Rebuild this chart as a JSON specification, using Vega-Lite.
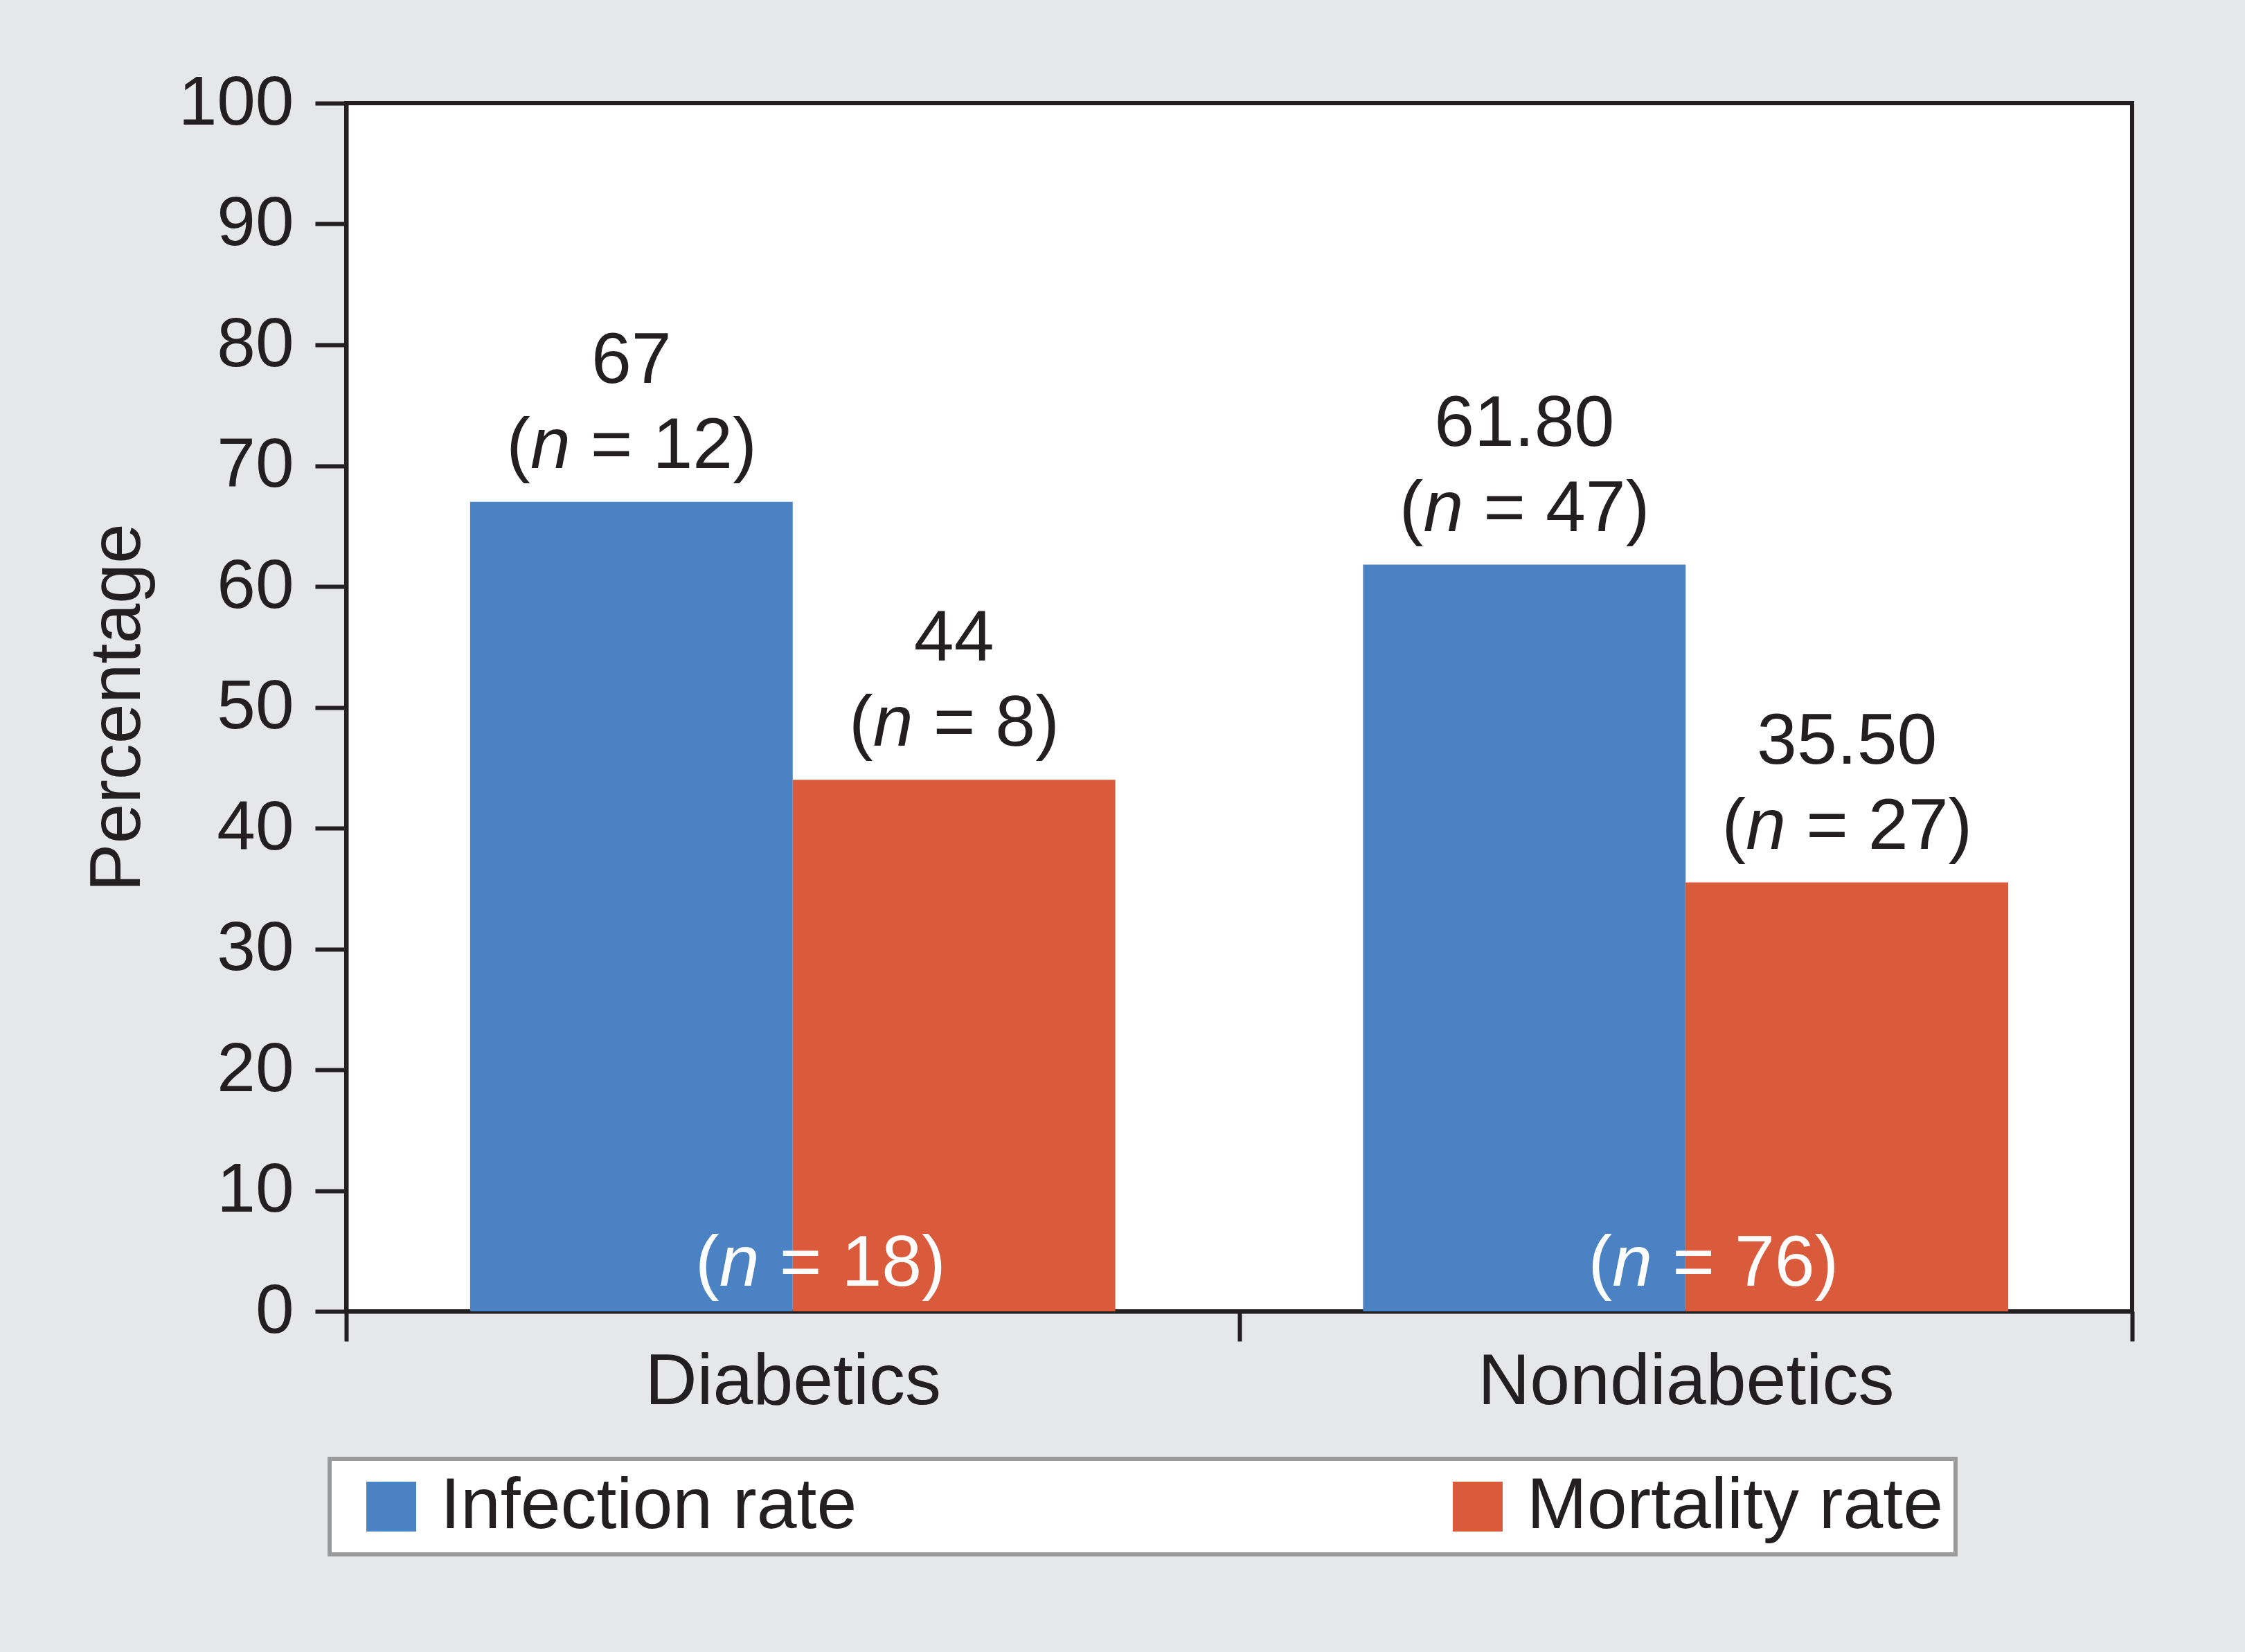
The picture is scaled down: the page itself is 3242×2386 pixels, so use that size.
{
  "$schema": "https://vega.github.io/schema/vega-lite/v6.json",
  "width": 2579,
  "height": 1745,
  "autosize": {"type": "none"},
  "padding": {"left": 500, "top": 149, "right": 163, "bottom": 492},
  "background": "#e6e7e9",
  "config": {
    "font": "Liberation Sans",
    "view": {"fill": "white", "stroke": "#231f20", "strokeWidth": 6},
    "axis": {"labelFont": "Liberation Sans", "titleFont": "Liberation Sans", "labelColor": "#231f20", "titleColor": "#231f20", "domainColor": "#231f20", "tickColor": "#231f20", "domainWidth": 6, "tickWidth": 6, "grid": false},
    "legend": {"strokeWidth": 6, "strokeColor": "#9a9a9a", "fillColor": "white"},
    "text": {"font": "Liberation Sans", "fontSize": 104}
  },
  "datasets": {
    "bars": [
      {"group": "Diabetics", "measure": "Infection rate", "value": 67, "value_label": "67", "n": "12"},
      {"group": "Diabetics", "measure": "Mortality rate", "value": 44, "value_label": "44", "n": "8"},
      {"group": "Nondiabetics", "measure": "Infection rate", "value": 61.8, "value_label": "61.80", "n": "47"},
      {"group": "Nondiabetics", "measure": "Mortality rate", "value": 35.5, "value_label": "35.50", "n": "27"}
    ],
    "totals": [
      {"group": "Diabetics", "n": "18"},
      {"group": "Nondiabetics", "n": "76"}
    ]
  },
  "layer": [
    {
      "data": {"name": "bars"},
      "mark": {"type": "bar"},
      "encoding": {
        "x": {"field": "group", "type": "nominal", "scale": {"paddingInner": 0, "paddingOuter": 0},
          "axis": {"title": null, "labelAngle": 0, "tickBand": "extent", "tickSize": 43, "labelFontSize": 104, "labelPadding": 8, "labelLimit": 2000}},
        "xOffset": {"field": "measure", "type": "nominal", "scale": {"paddingInner": 0, "paddingOuter": 0.384}},
        "y": {"field": "value", "type": "quantitative", "scale": {"domain": [0, 100], "nice": false},
          "axis": {"title": "Percentage", "values": [0, 10, 20, 30, 40, 50, 60, 70, 80, 90, 100], "tickSize": 45, "labelPadding": 31, "labelFontSize": 100, "titleFontSize": 104, "titleFontWeight": "normal", "titlePadding": 77}},
        "color": {"field": "measure", "type": "nominal",
          "scale": {"domain": ["Infection rate", "Mortality rate"], "range": ["#4a82c3", "#d95b3b"]},
          "legend": {"title": null, "orient": "none", "legendX": -24, "legendY": 1958, "direction": "horizontal", "columns": 2, "columnPadding": 824, "symbolType": "square", "symbolSize": 5184, "symbolStrokeWidth": 0, "symbolOpacity": 1, "labelFontSize": 104, "labelLimit": 1000, "labelOffset": 19, "symbolOffset": 20, "padding": 17, "fillColor": "white", "strokeColor": "#9a9a9a", "labelColor": "#231f20", "labelFont": "Liberation Sans"}}
      }
    },
    {
      "data": {"name": "bars"},
      "mark": {"type": "text", "dy": -203, "baseline": "middle", "align": "center", "color": "#231f20"},
      "encoding": {
        "x": {"field": "group", "type": "nominal"},
        "xOffset": {"field": "measure", "type": "nominal"},
        "y": {"field": "value", "type": "quantitative"},
        "text": {"field": "value_label"}
      }
    },
    {
      "data": {"name": "bars"},
      "mark": {"type": "text", "text": "(", "dy": -80, "baseline": "middle", "align": "right", "color": "#231f20", "dx": {"expr": "(length(datum.n) == 1 ? 0 : -29) - 117"}},
      "encoding": {
        "x": {"field": "group", "type": "nominal"},
        "xOffset": {"field": "measure", "type": "nominal"},
        "y": {"field": "value", "type": "quantitative"}
      }
    },
    {
      "data": {"name": "bars"},
      "mark": {"type": "text", "text": "n", "fontStyle": "italic", "dy": -80, "baseline": "middle", "align": "center", "color": "#231f20", "dx": {"expr": "(length(datum.n) == 1 ? 0 : -29) - 88"}},
      "encoding": {
        "x": {"field": "group", "type": "nominal"},
        "xOffset": {"field": "measure", "type": "nominal"},
        "y": {"field": "value", "type": "quantitative"}
      }
    },
    {
      "data": {"name": "bars"},
      "mark": {"type": "text", "text": {"expr": "'= ' + datum.n + ')'"}, "dy": -80, "baseline": "middle", "align": "left", "color": "#231f20", "dx": {"expr": "(length(datum.n) == 1 ? 0 : -29) - 30"}},
      "encoding": {
        "x": {"field": "group", "type": "nominal"},
        "xOffset": {"field": "measure", "type": "nominal"},
        "y": {"field": "value", "type": "quantitative"}
      }
    },
    {
      "data": {"name": "totals"},
      "mark": {"type": "text", "text": "(", "dy": -68, "dx": -106, "baseline": "middle", "align": "right", "color": "white"},
      "encoding": {
        "x": {"field": "group", "type": "nominal"},
        "y": {"datum": 0, "type": "quantitative"}
      }
    },
    {
      "data": {"name": "totals"},
      "mark": {"type": "text", "text": "n", "fontStyle": "italic", "dy": -68, "dx": -77, "baseline": "middle", "align": "center", "color": "white"},
      "encoding": {
        "x": {"field": "group", "type": "nominal"},
        "y": {"datum": 0, "type": "quantitative"}
      }
    },
    {
      "data": {"name": "totals"},
      "mark": {"type": "text", "text": {"expr": "'= ' + datum.n + ')'"}, "dy": -68, "dx": -19, "baseline": "middle", "align": "left", "color": "white"},
      "encoding": {
        "x": {"field": "group", "type": "nominal"},
        "y": {"datum": 0, "type": "quantitative"}
      }
    }
  ]
}
